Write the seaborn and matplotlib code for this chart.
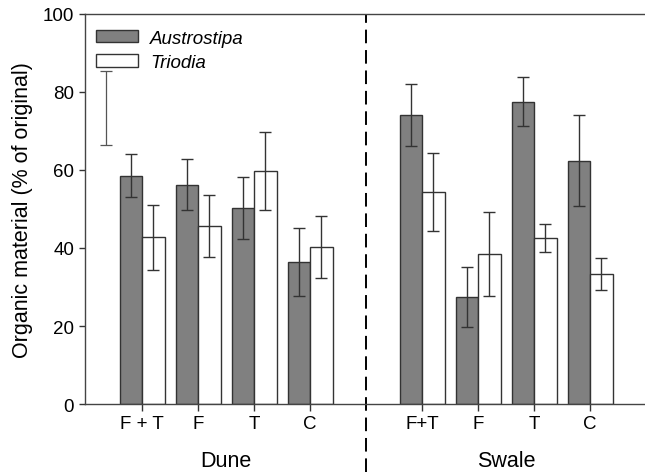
import matplotlib
matplotlib.use("Agg")
import matplotlib.pyplot as plt
from matplotlib.patches import Patch
import numpy as np
import pandas as pd
import seaborn as sns

# ---- data ----
habitats = ["Dune", "Swale"]
dune_ticks = ["F + T", "F", "T", "C"]
swale_ticks = ["F+T", "F", "T", "C"]
species = ["Austrostipa", "Triodia"]
austrostipa_mean = [58.5, 56.2, 50.2, 36.5, 74.1, 27.4, 77.5, 62.4]
austrostipa_err = [5.5, 6.5, 8.0, 8.7, 8.0, 7.7, 6.3, 11.6]
triodia_mean = [42.7, 45.6, 59.8, 40.2, 54.4, 38.5, 42.6, 33.3]
triodia_err = [8.4, 8.0, 10.0, 8.0, 10.0, 10.8, 3.5, 4.1]
stray_mean = [76.0]
stray_err = [9.5]

# ---- layout ----
sns.set_style("ticks")
plt.rcParams["font.family"] = ["Liberation Sans", "DejaVu Sans"]
plt.rcParams["text.color"] = "black"
plt.rcParams["axes.labelcolor"] = "black"
plt.rcParams["xtick.labelcolor"] = "black"
plt.rcParams["ytick.labelcolor"] = "black"

n = len(dune_ticks)
pos = list(range(n)) + [n + 1 + i for i in range(len(swale_ticks))]
divider = n
df = pd.DataFrame({
    "pos": pos * 2,
    "value": austrostipa_mean + triodia_mean,
    "species": [species[0]] * len(pos) + [species[1]] * len(pos),
})
palette = {species[0]: "#808080", species[1]: "#ffffff"}
edge = "#333333"

fig = plt.figure(figsize=(6.45, 4.77), dpi=100)
ax = fig.add_axes([85 / 645, 1 - 405 / 477, 1 - 85 / 645, 390 / 477])

sns.barplot(data=df, x="pos", y="value", hue="species", hue_order=species,
            native_scale=True, palette=palette, edgecolor=edge, linewidth=1.0,
            errorbar=None, width=0.8, ax=ax, legend=False, zorder=2)

# error bars aligned with the drawn bars
bars = sorted(ax.patches, key=lambda p: p.get_x())
errs = [e for pair in zip(austrostipa_err, triodia_err) for e in pair]
xc = [b.get_x() + b.get_width() / 2 for b in bars]
hh = [b.get_height() for b in bars]
ax.errorbar(xc, hh, yerr=errs, fmt="none", ecolor=edge, elinewidth=1.0,
            capsize=4.5, capthick=1.0, zorder=3)
# lone error bar in the top-left
ax.errorbar([-0.64], stray_mean, yerr=stray_err, fmt="none", ecolor="#555555",
            elinewidth=0.9, capsize=4.5, capthick=0.9, zorder=3)

ax.set_xlim(-1.02, 8.98)
ax.set_ylim(0, 100)
ax.set_yticks(np.arange(0, 101, 20))
ax.set_xticks(pos)
ax.set_xticklabels(dune_ticks + swale_ticks)
ax.tick_params(axis="y", labelsize=13.5, length=4.3, width=1.0, pad=3.5,
               color="#333333", labelcolor="black")
ax.tick_params(axis="x", labelsize=13.5, length=5.0, width=1.0, pad=3.0,
               color="#333333", labelcolor="black")
ax.set_xlabel("")
ax.set_ylabel("Organic material (% of original)", fontsize=15.5, color="black")
ax.yaxis.set_label_coords(-0.092, 0.5)

for s in ["top", "left", "bottom"]:
    ax.spines[s].set_visible(True)
    ax.spines[s].set_color("#444444")
    ax.spines[s].set_linewidth(1.0)
ax.spines["right"].set_visible(False)

# divider between habitats
ax.axvline(divider, ymin=-0.175, ymax=1.0, color="black", lw=1.4,
           ls=(0, (7, 3.5)), clip_on=False, zorder=1)

# habitat labels
centers = [np.mean(pos[:n]), np.mean(pos[n:])]
for c, h in zip(centers, habitats):
    ax.text(c, -0.144, h, transform=ax.get_xaxis_transform(), ha="center",
            va="center", fontsize=15.5, color="black")

handles = [Patch(facecolor=palette[s], edgecolor=edge, linewidth=1.0) for s in species]
ax.legend(handles, species, loc="upper left", bbox_to_anchor=(0.02, 0.96),
          frameon=False, prop={"style": "italic", "size": 13.5},
          handlelength=2.24, handleheight=0.64, handletextpad=0.62,
          labelspacing=0.4, borderpad=0, borderaxespad=0)

fig.savefig("out.png", dpi=100)
